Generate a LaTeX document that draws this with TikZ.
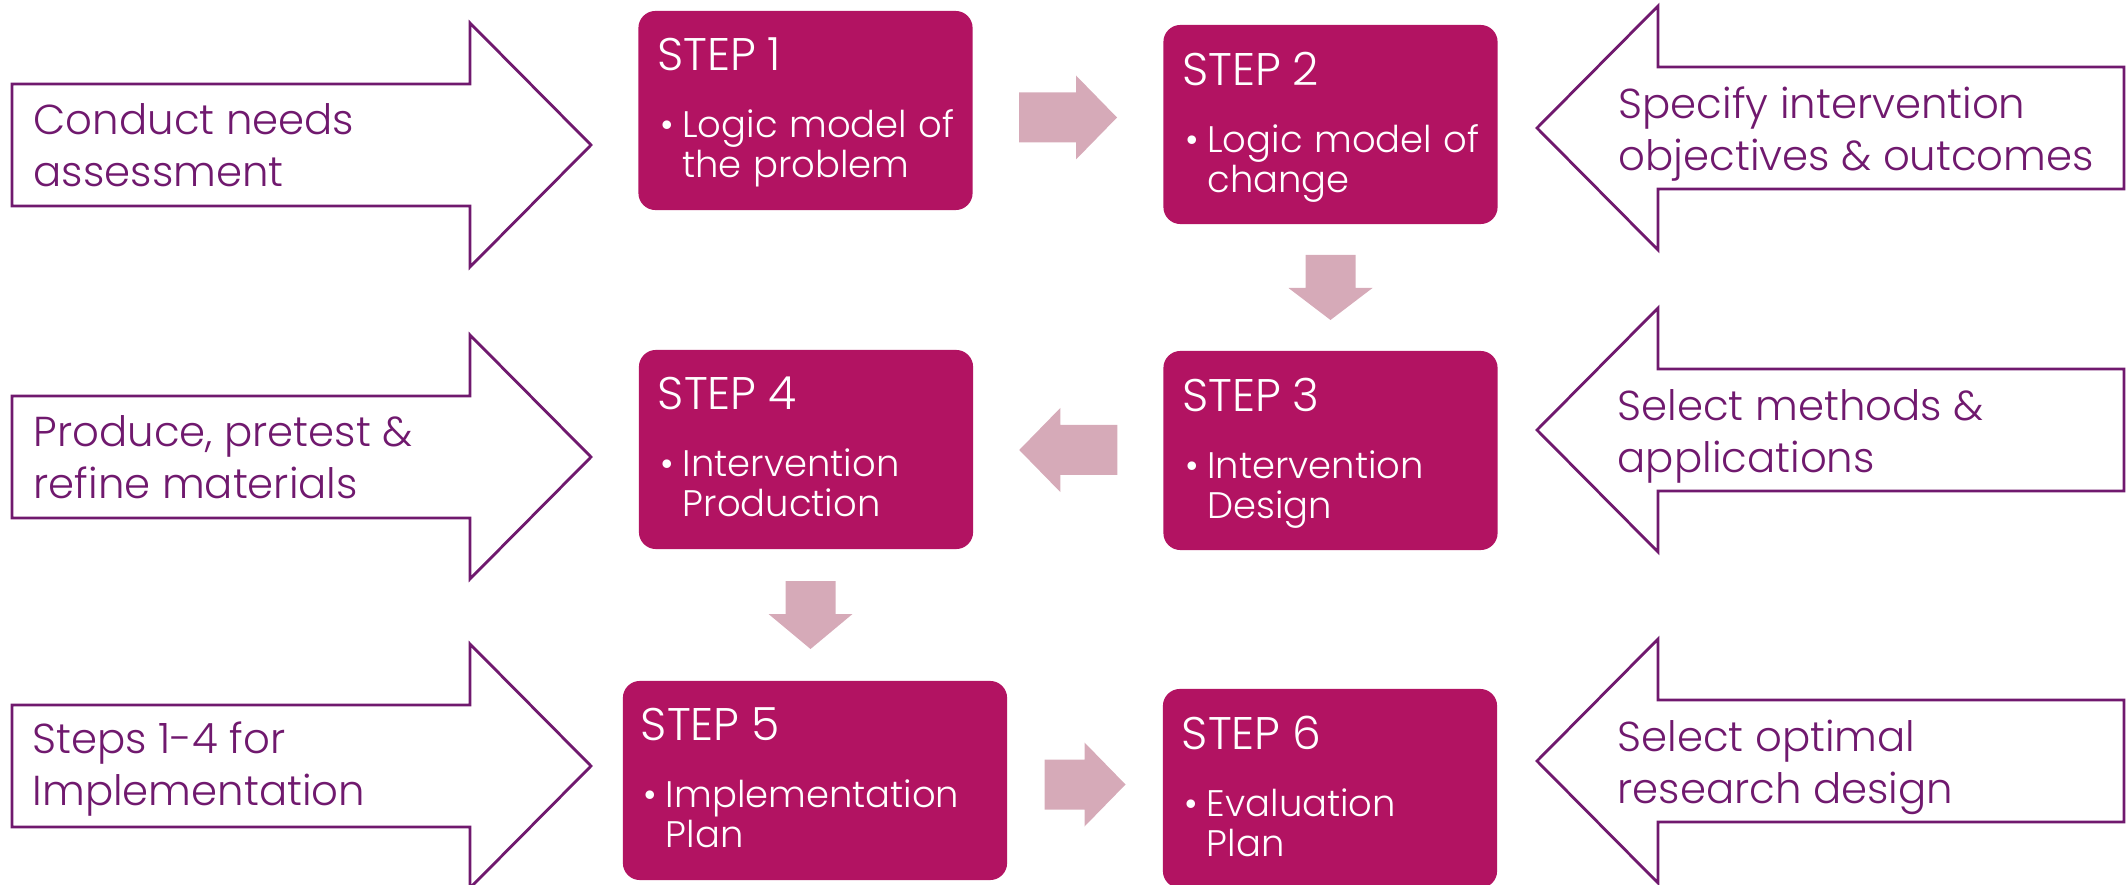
\documentclass[tikz,border=0pt]{standalone}
\usepackage{fontspec}
\setmainfont{Poppins}[UprightFont=* Light]
\usetikzlibrary{calc}
\definecolor{stepmagenta}{HTML}{B21362}
\definecolor{flowpink}{HTML}{D6AAB8}
\definecolor{sidepurple}{HTML}{70196E}
\newcommand{\headfont}{\fontsize{13}{16}\selectfont}
\newcommand{\bodyfont}{\fontsize{10.5}{11.4}\selectfont}
\newcommand{\sidefont}{\fontsize{11.9}{14.8}\selectfont}
\newcommand{\steptext}[2]{{\headfont STEP #1\par}{\fontsize{10.5}{19}\selectfont\makebox[0.25cm][l]{\hspace{0.03cm}\textbullet}\parbox[t]{3.3cm}{\bodyfont #2}\par}}
\newcommand{\blockarrow}[4]{\fill[flowpink, shift={(#1)}, rotate=#2] (-#3/2,-25) -- (#3/2-#4,-25) -- (#3/2-#4,-42) -- (#3/2,0) -- (#3/2-#4,42) -- (#3/2-#4,25) -- (-#3/2,25) -- cycle;}
\newcommand{\rightblock}[1]{\draw[sideline, shift={(0,#1)}] (12,-61) -- (470,-61) -- (470,-122) -- (591,0) -- (470,122) -- (470,61) -- (12,61) -- cycle;}
\newcommand{\leftblock}[1]{\draw[sideline, shift={(0,#1)}] (2124,-61) -- (1658,-61) -- (1658,-122) -- (1537,0) -- (1658,122) -- (1658,61) -- (2124,61) -- cycle;}

\begin{document}
\begin{tikzpicture}[x=0.01cm, y=-0.01cm,
    stepbox/.style={fill=stepmagenta, rounded corners=0.17cm, minimum width=3.34cm, minimum height=1.99cm, inner sep=0pt},
    steptxt/.style={anchor=north west, inner sep=0pt, text=white, text width=3.6cm, align=left},
    sideline/.style={draw=sidepurple, line width=0.8pt},
    sidetxt/.style={anchor=west, inner sep=0pt, text=sidepurple, align=left, font=\sidefont}]
    \useasboundingbox (0,0) rectangle (2126,885);

    %%%%% side arrows %%%%%
    \rightblock{145}
    \rightblock{457}
    \rightblock{766}
    \leftblock{128}
    \leftblock{430}
    \leftblock{761}

    \node[sidetxt] (needs) at (33,145) {Conduct needs\\assessment};
    \node[sidetxt] (pretest) at (33,457) {Produce, pretest \&\\refine materials};
    \node[sidetxt] (impl) at (32,769) {Steps 1-4 for\\Implementation};
    \node[sidetxt] (objectives) at (1618,134) {Specify intervention\\objectives \& outcomes};
    \node[sidetxt] (methods) at (1617,436) {Select methods \&\\applications};
    \node[sidetxt] (design) at (1617,767) {Select optimal\\research design};

    %%%%% steps %%%%%
    \node[stepbox] (s1) at (805.5,110.5) {};
    \node[stepbox] (s2) at (1330.5,124.5) {};
    \node[stepbox] (s3) at (1330.5,450.5) {};
    \node[stepbox] (s4) at (806,449.5) {};
    \node[stepbox, minimum width=3.84cm] (s5) at (815,780.5) {};
    \node[stepbox] (s6) at (1330,788.5) {};

    \node[steptxt] (s1txt) at ($(s1.north west)+(19,27)$) {\steptext{1}{Logic model of\\the problem}};
    \node[steptxt] (s2txt) at ($(s2.north west)+(19,27)$) {\steptext{2}{Logic model of\\change}};
    \node[steptxt] (s3txt) at ($(s3.north west)+(19,27)$) {\steptext{3}{Intervention\\Design}};
    \node[steptxt] (s4txt) at ($(s4.north west)+(19,27)$) {\steptext{4}{Intervention\\Production}};
    \node[steptxt] (s5txt) at ($(s5.north west)+(18,27)$) {\steptext{5}{Implementation\\Plan}};
    \node[steptxt] (s6txt) at ($(s6.north west)+(19,27)$) {\steptext{6}{Evaluation\\Plan}};

    %%%%% flow between steps %%%%%
    \blockarrow{$(s1.east)!0.5!(s2.west)$}{0}{98}{41}
    \blockarrow{$(s2.south)!0.5!(s3.north)$}{-90}{65}{32}
    \blockarrow{$(s3.west)!0.5!(s4.east)$}{180}{98}{41}
    \blockarrow{$(s4.south)!0.5!(s5.north)$}{-90}{68}{35}
    \blockarrow{$(s5.east)!0.5!(s6.west)$}{0}{81}{41}
\end{tikzpicture}
\end{document}
